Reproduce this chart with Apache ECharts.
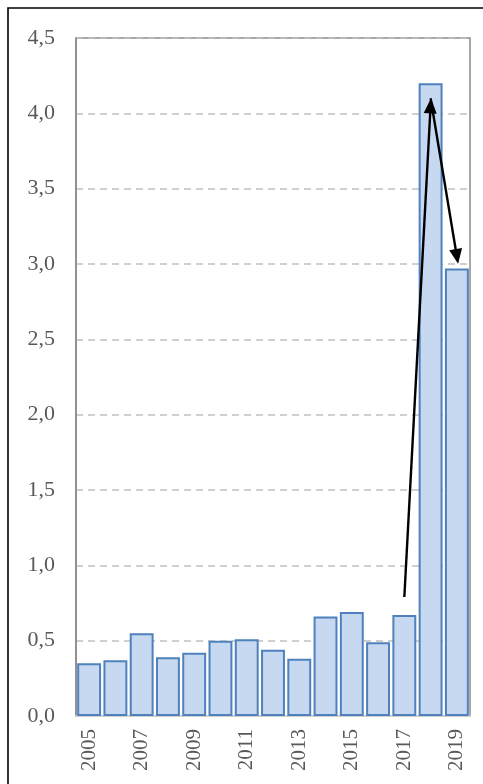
<!DOCTYPE html>
<html>
<head>
<meta charset="utf-8">
<style>
  html, body { margin: 0; padding: 0; background: #fff; }
  #chart { width: 483px; height: 784px; }
</style>
<script src="https://cdn.jsdelivr.net/npm/echarts@6/dist/echarts.min.js"></script>
</head>
<body>
<div id="chart"></div>
<script>
// Annual values, 2005–2019
const years = ['2005','2006','2007','2008','2009','2010','2011','2012','2013','2014','2015','2016','2017','2018','2019'];
const values = [0.35, 0.37, 0.55, 0.39, 0.42, 0.50, 0.51, 0.44, 0.38, 0.66, 0.69, 0.49, 0.67, 4.20, 2.97];

// Value-axis ticks
const yTicks = [0, 0.5, 1.0, 1.5, 2.0, 2.5, 3.0, 3.5, 4.0, 4.5];

// Annotation arrows: [fromYear, fromValue, toYear, toValue]
// (the triangle head is centred on the end point)
const arrowUp = ['2017', 0.79, '2018', 4.05];
const arrowDown = ['2018', 4.10, '2019', 3.05];

const serif = '"Liberation Serif", "Times New Roman", serif';

const chart = echarts.init(document.getElementById('chart'), null, { renderer: 'canvas' });

chart.setOption({
  animation: false,
  backgroundColor: '#ffffff',
  graphic: [{
    type: 'rect',
    z: 100,
    silent: true,
    shape: { x: 8, y: 8, width: 520, height: 820 },
    style: { fill: 'none', stroke: '#000000', lineWidth: 1.6 }
  }],
  grid: {
    left: 76, top: 38, right: 13, bottom: 68,
    show: true,
    borderColor: '#8a8a8a',
    borderWidth: 1.5,
    backgroundColor: 'transparent'
  },
  xAxis: {
    type: 'category',
    data: years,
    axisLine: { show: true, lineStyle: { color: '#d0d0d0', width: 2 } },
    axisTick: { show: false },
    axisLabel: {
      interval: 1,
      rotate: 90,
      margin: 13,
      color: '#595959',
      fontFamily: serif,
      fontSize: 21
    }
  },
  yAxis: {
    type: 'value',
    min: yTicks[0],
    max: yTicks[yTicks.length - 1],
    interval: 0.5,
    axisLine: { show: true, lineStyle: { color: '#8a8a8a', width: 1.5 } },
    axisTick: { show: false },
    splitLine: { show: true, lineStyle: { color: '#c0c0c0', width: 1.5, type: [7, 5] } },
    axisLabel: {
      margin: 21,
      color: '#595959',
      fontFamily: serif,
      fontSize: 22,
      formatter: v => v.toFixed(1).replace('.', ',')
    }
  },
  series: [{
    type: 'bar',
    data: values,
    barCategoryGap: '9%',
    itemStyle: { color: '#c6d9f1', borderColor: '#4f81bd', borderWidth: 2 },
    markLine: {
      silent: true,
      symbol: ['none', 'triangle'],
      symbolSize: [13, 15],
      label: { show: false },
      emphasis: { disabled: true },
      lineStyle: { color: '#000000', width: 2.4, type: 'solid' },
      data: [
        [{ coord: [arrowUp[0], arrowUp[1]] }, { coord: [arrowUp[2], arrowUp[3]] }],
        [{ coord: [arrowDown[0], arrowDown[1]] }, { coord: [arrowDown[2], arrowDown[3]] }]
      ]
    }
  }]
});
</script>
</body>
</html>
